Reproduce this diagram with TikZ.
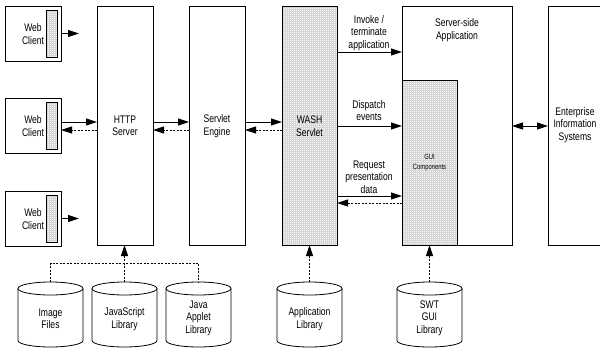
\documentclass[tikz,border=0pt]{standalone}
\usepackage{fontspec}
\setmainfont{Liberation Sans}[FakeStretch=0.78]
\usetikzlibrary{arrows.meta}

% cylinder outline drawn around a (frame) node
\newcommand\drumshape[1]{%
  \draw[line width=0.8pt, fill=white]
    ([yshift=-6.5pt]#1.north west) -- ([yshift=6.5pt]#1.south west)
    arc[start angle=180,end angle=360,x radius=32.5pt,y radius=6.5pt]
    -- ([yshift=-6.5pt]#1.north east)
    arc[start angle=0,end angle=180,x radius=32.5pt,y radius=6.5pt] -- cycle;
  \draw[line width=0.8pt] ([yshift=-6.5pt]#1.north west)
    arc[start angle=180,end angle=360,x radius=32.5pt,y radius=6.5pt];}

\begin{document}
\begin{tikzpicture}[x=1pt,y=-1pt,
  box/.style={draw, line width=0.8pt, inner sep=0pt, outer sep=0pt, anchor=north west},
  mesh/.style={path picture={
      \fill[black!3] (path picture bounding box.south west) rectangle (path picture bounding box.north east);
      \draw[black!16, line width=0.3pt, step=2pt]
        (path picture bounding box.south west) grid (path picture bounding box.north east);}},
  lbl/.style={align=center, font=\fontsize{11}{12.5}\selectfont, inner sep=0pt},
  small/.style={align=center, font=\fontsize{7.5}{10}\selectfont, inner sep=0pt},
  drum/.style={inner sep=0pt, outer sep=0pt, minimum width=65pt, minimum height=65pt},
  ln/.style={line width=0.8pt},
  dsh/.style={line width=0.8pt, dash pattern=on 2pt off 1.5pt},
  tip/.style={-{Triangle[length=11pt,width=7pt]}},
  tips/.style={{Triangle[length=11pt,width=7pt]}-{Triangle[length=11pt,width=7pt]}},
]
\useasboundingbox (0,0) rectangle (600,351);

% web clients
\node[box, minimum width=56pt, minimum height=55pt] (wc1) at (5,6) {};
\node[box, mesh, minimum width=11pt, minimum height=47pt] (bar1) at (46,10) {};
\node[lbl] (wc1t) at (33,34) {Web\\Client};
\node[box, minimum width=56pt, minimum height=55pt] (wc2) at (5,98) {};
\node[box, mesh, minimum width=11pt, minimum height=47pt] (bar2) at (46,102) {};
\node[lbl] (wc2t) at (33,126) {Web\\Client};
\node[box, minimum width=56pt, minimum height=55pt] (wc3) at (5,191) {};
\node[box, mesh, minimum width=11pt, minimum height=47pt] (bar3) at (46,195) {};
\node[lbl] (wc3t) at (33,219) {Web\\Client};

% server tiers
\node[box, minimum width=56pt, minimum height=239pt] (http) at (97,6) {};
\node[lbl] (httpt) at (125,126) {HTTP\\Server};
\node[box, minimum width=56pt, minimum height=239pt] (eng) at (189,6) {};
\node[lbl] (engt) at (217,126) {Servlet\\Engine};
\node[box, mesh, minimum width=55pt, minimum height=239pt] (wash) at (282,6) {};
\node[lbl] (washt) at (309.5,126) {WASH\\Servlet};
\node[box, minimum width=110pt, minimum height=239pt] (app) at (402,6) {};
\node[lbl] (appt) at (457,30) {Server-side\\Application};
\node[box, mesh, minimum width=55pt, minimum height=165pt] (gui) at (402,80) {};
\node[small] (guit) at (429.5,163) {GUI\\Components};
\node[box, minimum width=60pt, minimum height=239pt] (eis) at (548,6) {};
\node[lbl] (eist) at (575,125) {Enterprise\\Information\\Systems};

% client links
\coordinate (o1) at (79,33.5);
\coordinate (o3) at (79,218.5);
\draw[ln,tip] (wc1.east) -- (o1);
\draw[ln,tip] (wc3.east) -- (o3);
\coordinate (ya) at (0,122);
\coordinate (yb) at (0,130);
\draw[ln,tip] (wc2.east |- ya) -- (http.west |- ya);
\draw[dsh,tip] (http.west |- yb) -- (wc2.east |- yb);
\draw[ln,tip] (http.east |- ya) -- (eng.west |- ya);
\draw[dsh,tip] (eng.west |- yb) -- (http.east |- yb);
\draw[ln,tip] (eng.east |- ya) -- (wash.west |- ya);
\draw[dsh,tip] (wash.west |- yb) -- (eng.east |- yb);

% servlet to application
\coordinate (yi) at (0,52);
\coordinate (yd) at (0,126);
\coordinate (yr) at (0,196);
\coordinate (yq) at (0,203);
\draw[ln,tip] (wash.east |- yi) -- (app.west |- yi);
\draw[ln,tip] (wash.east |- yd) -- (gui.west |- yd);
\draw[ln,tip] (wash.east |- yr) -- (gui.west |- yr);
\draw[dsh,tip] (gui.west |- yq) -- (wash.east |- yq);
\node[lbl] (invt) at (369,33) {Invoke /\\terminate\\application};
\node[lbl] (dist) at (369,110.5) {Dispatch\\events};
\node[lbl] (reqt) at (369,177) {Request\\presentation\\data};
\draw[ln,tips] (app.east |- yd) -- (eis.west |- yd);

% libraries
\node[drum] (imgdb) at (50.5,314.5) {};
\node[drum] (jsdb) at (124.5,314.5) {};
\node[drum] (appletdb) at (198.5,314.5) {};
\node[drum] (appdb) at (309.5,314.5) {};
\node[drum] (swtdb) at (429.5,314.5) {};
\drumshape{imgdb}
\drumshape{jsdb}
\drumshape{appletdb}
\drumshape{appdb}
\drumshape{swtdb}
\node[lbl] (imgdbt) at (50.5,319) {Image\\Files};
\node[lbl] (jsdbt) at (124.5,319) {JavaScript\\Library};
\node[lbl] (appletdbt) at (198.5,318) {Java\\Applet\\Library};
\node[lbl] (appdbt) at (309.5,319) {Application\\Library};
\node[lbl] (swtdbt) at (429.5,318) {SWT\\GUI\\Library};

% library links
\coordinate (yl) at (0,263);
\draw[dsh] (imgdb.north) -- (imgdb.north |- yl) -- (appletdb.north |- yl) -- (appletdb.north);
\draw[dsh,tip] (jsdb.north) -- (jsdb.north |- http.south);
\draw[dsh,tip] (appdb.north) -- (wash.south);
\draw[dsh,tip] (swtdb.north) -- (gui.south);
\end{tikzpicture}
\end{document}
